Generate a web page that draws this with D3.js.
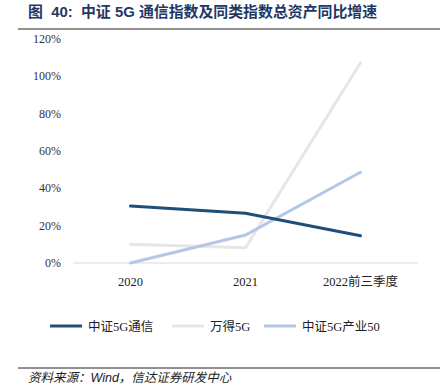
<!DOCTYPE html>
<html>
<head>
<meta charset="utf-8">
<script src="https://cdn.jsdelivr.net/npm/d3@7"></script>
<style>
  body { margin: 0; background: #fff; }
  svg text { font-family: "Liberation Serif", "Noto Sans CJK SC", serif; white-space: pre; }
</style>
</head>
<body>
<div id="chart"></div>
<script>
// chart data
const categories = ['2020', '2021', '2022前三季度'];
const seriesNames = ['中证5G通信', '万得5G', '中证5G产业50'];
const tx5g = [30.5, 26.6, 14.6];
const wind5g = [10.0, 8.2, 107.3];
const ind50 = [0, 15.0, 48.6];
const yTicks = [0, 20, 40, 60, 80, 100, 120];

const colors = ['#1f4e79', '#e7e6e6', '#b4c7e7'];
const W = 440, H = 388;

const svg = d3.select('#chart').append('svg')
    .attr('width', W).attr('height', H);

// title + rule
svg.append('text')
    .attr('x', 28).attr('y', 17)
    .attr('font-size', 14.9)
    .attr('font-weight', 'bold')
    .attr('fill', '#1f3864')
    .style('font-family', '"Liberation Sans", "Noto Sans CJK SC", sans-serif')
    .text('图  40:  中证 5G 通信指数及同类指数总资产同比增速');
svg.append('line')
    .attr('x1', 18).attr('x2', W).attr('y1', 29).attr('y2', 29)
    .attr('stroke', '#6d6d6d').attr('stroke-width', 1.5);

const x = d3.scaleBand().domain(categories).range([73, 418]);
const y = d3.scaleLinear().domain([0, 120]).range([263, 39]);

// y tick labels
svg.append('g').selectAll('text')
    .data(yTicks).enter().append('text')
    .attr('x', 61).attr('y', d => y(d) + 4)
    .attr('text-anchor', 'end')
    .attr('font-size', 12)
    .attr('fill', '#333')
    .text(d => d + '%');

// baseline
svg.append('line')
    .attr('x1', 73).attr('x2', 418).attr('y1', y(0)).attr('y2', y(0))
    .attr('stroke', '#d9d9d9').attr('stroke-width', 1);

// x labels
svg.append('g').selectAll('text')
    .data(categories).enter().append('text')
    .attr('x', d => x(d) + x.bandwidth() / 2)
    .attr('y', 286)
    .attr('text-anchor', 'middle')
    .attr('font-size', 12.5)
    .attr('fill', '#222')
    .text(d => d);

const series = [tx5g, wind5g, ind50];
const line = d3.line()
    .x((d, i) => x(categories[i]) + x.bandwidth() / 2)
    .y(d => y(d));

// grey first, then light blue, dark on top
[1, 2, 0].forEach(k => {
    svg.append('path')
        .attr('d', line(series[k]))
        .attr('fill', 'none')
        .attr('stroke', colors[k])
        .attr('stroke-width', 3)
        .attr('stroke-linecap', 'round');
});

// legend
const legendX = [50, 172, 264];
const lg = svg.append('g');
seriesNames.forEach((name, i) => {
    lg.append('line')
        .attr('x1', legendX[i]).attr('x2', legendX[i] + 32)
        .attr('y1', 326).attr('y2', 326)
        .attr('stroke', colors[i]).attr('stroke-width', 3);
    lg.append('text')
        .attr('x', legendX[i] + 38).attr('y', 330.5)
        .attr('font-size', 12.5)
        .attr('fill', '#222')
        .text(name);
});

// source
svg.append('line')
    .attr('x1', 18).attr('x2', W).attr('y1', 368).attr('y2', 368)
    .attr('stroke', '#222').attr('stroke-width', 1);
svg.append('text')
    .attr('x', 28).attr('y', 382)
    .attr('font-size', 12.5)
    .attr('font-style', 'italic')
    .attr('fill', '#222')
    .style('font-family', '"Liberation Sans", "Noto Sans CJK SC", sans-serif')
    .text('资料来源：Wind，信达证券研发中心');
</script>
</body>
</html>
